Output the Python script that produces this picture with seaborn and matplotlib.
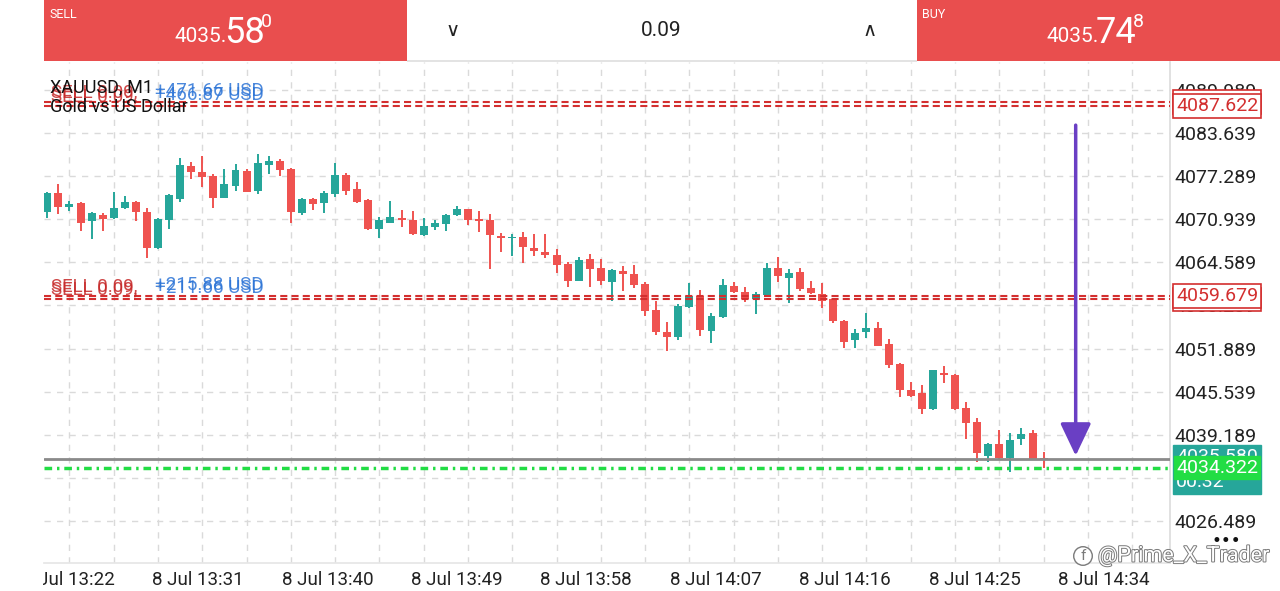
import numpy as np
import pandas as pd
import matplotlib
matplotlib.use('Agg')
import matplotlib.pyplot as plt
import matplotlib.patheffects as pe
from matplotlib.patches import Rectangle
from matplotlib.transforms import blended_transform_factory
import seaborn as sns

# XAUUSD M1 candles
opens = [4072.00, 4074.76, 4072.78, 4073.28, 4070.63, 4071.61, 4071.12, 4072.55, 4073.48, 4071.96,
         4066.70, 4070.82, 4073.96, 4078.82, 4077.85, 4077.35, 4074.11, 4075.88, 4078.09, 4075.14,
         4078.88, 4079.52, 4078.34, 4071.90, 4073.92, 4073.28, 4074.70, 4077.45, 4075.35, 4073.73,
         4069.46, 4070.43, 4071.08, 4070.78, 4068.62, 4069.84, 4070.19, 4071.56, 4072.45, 4071.02,
         4070.78, 4068.47, 4068.13, 4068.32, 4066.70, 4066.15, 4065.63, 4064.34, 4061.88, 4065.04,
         4063.75, 4061.74, 4063.36, 4062.83, 4061.35, 4057.57, 4054.28, 4053.63, 4057.97, 4059.63,
         4054.52, 4056.49, 4061.15, 4060.26, 4059.19, 4059.78, 4063.71, 4062.33, 4063.12, 4060.76,
         4059.92, 4059.19, 4055.99, 4053.10, 4054.28, 4054.92, 4052.56, 4049.57, 4045.78, 4045.30,
         4042.99, 4048.33, 4048.04, 4043.13, 4041.11, 4036.11, 4037.83, 4035.81, 4038.57, 4039.49,
         4035.72]
highs = [4074.99, 4076.13, 4073.67, 4073.48, 4072.00, 4071.81, 4074.91, 4074.40, 4073.62, 4072.55,
         4071.16, 4074.70, 4079.91, 4079.32, 4080.25, 4077.56, 4078.34, 4079.07, 4078.29, 4080.50,
         4080.21, 4079.77, 4078.44, 4074.02, 4074.07, 4075.10, 4079.18, 4077.75, 4076.38, 4073.92,
         4071.31, 4073.62, 4072.30, 4072.11, 4071.16, 4070.78, 4071.75, 4072.89, 4072.49, 4072.19,
         4071.66, 4068.95, 4068.72, 4069.10, 4068.72, 4068.81, 4066.60, 4064.59, 4065.33, 4065.77,
         4065.04, 4063.56, 4064.09, 4064.24, 4061.69, 4058.94, 4055.84, 4058.45, 4061.50, 4060.47,
         4057.13, 4062.13, 4061.69, 4061.00, 4060.22, 4064.45, 4065.33, 4063.61, 4063.80, 4061.88,
         4061.50, 4059.29, 4056.09, 4054.77, 4057.17, 4055.80, 4053.30, 4049.72, 4047.01, 4046.52,
         4048.75, 4049.27, 4048.10, 4044.02, 4041.61, 4038.02, 4039.89, 4039.41, 4040.14, 4039.89,
         4036.61]
lows = [4071.08, 4071.71, 4072.15, 4069.20, 4067.98, 4069.16, 4070.93, 4072.40, 4070.68, 4065.27,
        4066.60, 4069.46, 4073.43, 4076.82, 4075.73, 4072.64, 4074.02, 4075.14, 4074.91, 4074.70,
        4077.60, 4077.35, 4070.34, 4071.52, 4072.25, 4071.81, 4074.26, 4074.51, 4073.28, 4069.35,
        4068.22, 4070.34, 4069.84, 4068.66, 4068.51, 4069.35, 4069.16, 4071.46, 4070.09, 4069.10,
        4063.56, 4066.11, 4065.57, 4064.54, 4065.48, 4065.23, 4063.02, 4060.96, 4061.84, 4060.91,
        4061.21, 4058.89, 4060.32, 4060.76, 4056.68, 4053.84, 4051.53, 4053.15, 4057.90, 4053.74,
        4052.71, 4056.39, 4060.12, 4058.75, 4056.98, 4059.63, 4061.69, 4058.64, 4060.41, 4059.88,
        4057.82, 4055.61, 4051.93, 4051.97, 4053.49, 4052.26, 4048.98, 4044.75, 4044.71, 4042.20,
        4042.90, 4046.86, 4042.90, 4038.52, 4035.22, 4035.13, 4035.47, 4033.75, 4037.68, 4035.47,
        4034.25]
closes = [4074.85, 4072.70, 4073.23, 4070.43, 4071.86, 4071.02, 4072.64, 4073.52, 4071.96, 4066.70,
          4070.93, 4074.51, 4078.93, 4077.90, 4077.16, 4074.11, 4076.13, 4078.15, 4074.99, 4079.18,
          4079.52, 4078.15, 4071.96, 4073.87, 4073.23, 4074.76, 4077.50, 4075.14, 4073.43, 4069.46,
          4070.82, 4071.27, 4070.78, 4068.76, 4069.90, 4070.38, 4071.61, 4072.40, 4070.87, 4070.68,
          4068.57, 4068.22, 4068.28, 4066.85, 4066.21, 4065.63, 4064.20, 4061.80, 4064.93, 4063.65,
          4061.80, 4063.50, 4062.83, 4061.18, 4057.42, 4054.28, 4053.63, 4058.20, 4059.67, 4054.62,
          4056.73, 4061.25, 4060.22, 4059.14, 4059.88, 4063.80, 4062.62, 4063.02, 4060.62, 4060.07,
          4058.89, 4055.95, 4052.90, 4054.22, 4054.96, 4052.31, 4049.42, 4045.74, 4044.94, 4043.03,
          4048.69, 4048.04, 4042.94, 4040.88, 4036.46, 4037.83, 4035.72, 4038.46, 4039.30, 4035.58,
          4035.58]

price_ticks = [4026.489, 4032.839, 4039.189, 4045.539, 4051.889, 4058.239,
               4064.589, 4070.939, 4077.289, 4083.639, 4089.989]
time_labels = ['8 Jul 13:22', '8 Jul 13:31', '8 Jul 13:40', '8 Jul 13:49', '8 Jul 13:58',
               '8 Jul 14:07', '8 Jul 14:16', '8 Jul 14:25', '8 Jul 14:34']

# open positions
pos_top = [4088.155, 4087.622]
pos_top_profit = ['+471.66 USD', '+466.87 USD']
pos_mid = [4059.679, 4059.120]
pos_mid_profit = ['+215.88 USD', '+211.66 USD']
bid = 4035.580
ask = 4035.748
green_level = 4034.322
countdown = '00:32'
lot = '0.09'
arrow_bar = 92.9
arrow_from, arrow_to = 4084.8, 4036.1

GREEN = '#26A69A'
RED = '#EF5350'
HEAD_RED = '#E94E4E'
LINE_RED = '#D32F2F'
BLUE = '#2B73D6'

sns.set_theme(style="white")
plt.rcParams['font.family'] = ['Roboto', 'DejaVu Sans']

df = pd.DataFrame({'open': opens, 'high': highs, 'low': lows, 'close': closes})
df['bar'] = np.arange(len(df))
colors = np.where(df['close'] > df['open'], GREEN, RED)

W, H = 1280, 591
fig = plt.figure(figsize=(12.8, 5.91), dpi=100)
fx = lambda x: x / W
fy = lambda y: 1 - y / H
ax = fig.add_axes([fx(44), fy(563), (1170 - 44) / W, (563 - 62) / H])

# grid
for v in price_ticks:
    ax.axhline(v, color='#DADADA', lw=1, ls=(0, (4.5, 4.5)), zorder=1)
for b in np.arange(2, 102, 4):
    ax.axvline(b, color='#DADADA', lw=1, ls=(0, (4.5, 4.5)), zorder=1)

# candles
ax.vlines(df['bar'], df['low'], df['high'], colors=colors, lw=1.4, zorder=3)
body = (df['close'] - df['open']).abs().clip(lower=0.25)
ax.bar(df['bar'], body, bottom=df[['open', 'close']].min(axis=1), width=0.72,
       color=colors, zorder=4, linewidth=0)

ax.set_xlim(-0.3, 101.42)
ax.set_ylim(4020.30, 4094.10)

# position lines
for p in pos_top + pos_mid:
    ax.axhline(p, color=LINE_RED, lw=1.5, ls=(0, (3.4, 2.0)), zorder=5)
ax.axhline(bid, color='#8A8A8A', lw=2, zorder=5)
ax.axhline(green_level, color='#22DD44', lw=2.5, ls=(0, (2.2, 1.4, 0.7, 1.4)), zorder=5)

# arrow
ax.annotate('', xy=(arrow_bar, arrow_to), xytext=(arrow_bar, arrow_from),
            arrowprops=dict(arrowstyle='-|>,head_length=2.0,head_width=0.95',
                            color='#6A3FC4', lw=2.5, shrinkA=0, shrinkB=0,
                            mutation_scale=10), zorder=6)

# axes styling
for s in ['top', 'left']:
    ax.spines[s].set_visible(False)
ax.spines['right'].set_color('#DDDDDD')
ax.spines['bottom'].set_color('#E6E6E6')
ax.yaxis.tick_right()
ax.set_yticks(price_ticks)
ax.set_yticklabels([f'{v:.3f}' for v in price_ticks])
ax.tick_params(axis='y', length=0, pad=3, labelsize=14, labelcolor='#222222')
ax.set_xticks(1.92 + 11.69 * np.arange(len(time_labels)))
ax.set_xticklabels(time_labels)
ax.tick_params(axis='x', length=0, pad=6, labelsize=13.5, labelcolor='#222222')

tr = blended_transform_factory(ax.transAxes, ax.transData)
tag_x = (1176 - 44) / 1126
for p in pos_top[:1] + pos_mid[1:]:
    ax.text(tag_x, p, f'{p:.3f}', transform=tr, fontsize=14, color=LINE_RED, va='center',
            ha='left', clip_on=False, zorder=7,
            bbox=dict(boxstyle='square,pad=0.15', fc='white', ec=LINE_RED, lw=1.2))
for p in pos_top[1:] + pos_mid[:1]:
    ax.text(tag_x, p, f'{p:.3f}', transform=tr, fontsize=14, color=LINE_RED, va='center',
            ha='left', clip_on=False, zorder=8,
            bbox=dict(boxstyle='square,pad=0.15', fc='white', ec=LINE_RED, lw=1.2))
# bid tag with bar countdown underneath
ax.annotate(f'{bid:.3f}\n{countdown}', xy=(tag_x, bid), xycoords=tr, xytext=(0, 8),
            textcoords='offset points', fontsize=14, color='white', va='top', ha='left',
            linespacing=1.5, annotation_clip=False, zorder=7,
            bbox=dict(boxstyle='square,pad=0.15', fc=GREEN, ec=GREEN))
ax.text(tag_x, green_level, f'{green_level:.3f}', transform=tr, fontsize=14, color='white',
        va='center', ha='left', clip_on=False, zorder=9,
        bbox=dict(boxstyle='square,pad=0.12', fc='#22DD44', ec='#22DD44'))

# position labels (ghosted double text as in the app)
for p, prof in zip(pos_top + pos_mid, pos_top_profit + pos_mid_profit):
    ax.annotate(f'SELL {lot},', xy=(0, p), xycoords=tr, xytext=(5, 0.5), textcoords='offset points',
                fontsize=13.5, color='#C62828', va='bottom', ha='left', zorder=6, alpha=0.85)
    ax.annotate(prof, xy=(0, p), xycoords=tr, xytext=(80, 1.5), textcoords='offset points',
                fontsize=13.5, color=BLUE, va='bottom', ha='left', zorder=6, alpha=0.85)

fig.text(fx(50), fy(87), 'XAUUSD, M1', fontsize=13, color='#111111', va='center', zorder=10)
fig.text(fx(50), fy(107), 'Gold vs US Dollar', fontsize=13, color='#111111', va='center', zorder=10)

# header bar
fig.add_artist(Rectangle((fx(44), fy(61)), (407 - 44) / W, 61 / H, transform=fig.transFigure,
                         fc=HEAD_RED, ec='none', zorder=20))
fig.add_artist(Rectangle((fx(407), fy(61)), (917 - 407) / W, 61 / H, transform=fig.transFigure,
                         fc='white', ec='none', zorder=20))
fig.add_artist(Rectangle((fx(407), fy(62)), (917 - 407) / W, 2 / H, transform=fig.transFigure,
                         fc='#E3E3E3', ec='none', zorder=20))
fig.add_artist(Rectangle((fx(917), fy(61)), (W - 917) / W, 61 / H, transform=fig.transFigure,
                         fc=HEAD_RED, ec='none', zorder=20))
fig.add_artist(Rectangle((0, fy(591)), 43 / W, 25 / H, transform=fig.transFigure,
                         fc='white', ec='none', zorder=20))

def price_parts(x_right, y_base, value):
    s = f'{value:.3f}'
    fig.text(fx(x_right), fy(y_base), s[:5], fontsize=15, color='white', ha='right',
             va='baseline', zorder=21)
    fig.text(fx(x_right - 3), fy(y_base + 1), s[5:7], fontsize=26, color='white', ha='left',
             va='baseline', zorder=21)
    fig.text(fx(x_right + 34), fy(27), s[7], fontsize=14, color='white', ha='left',
             va='baseline', zorder=21)

fig.text(fx(50), fy(14), 'SELL', fontsize=9, color='white', va='center', zorder=21)
fig.text(fx(922), fy(14), 'BUY', fontsize=9, color='white', va='center', zorder=21)
price_parts(227, 42, bid)
price_parts(1099, 42, ask)
fig.text(fx(661), fy(31), lot, fontsize=15, color='#222222', ha='center', va='center', zorder=21)
fig.text(fx(453), fy(31), '∨', fontsize=14, color='#222222', ha='center', va='center', zorder=21,
         family='DejaVu Sans')
fig.text(fx(870), fy(31), '∧', fontsize=14, color='#222222', ha='center', va='center', zorder=21,
         family='DejaVu Sans')

fig.text(fx(1226), fy(541), '•••', fontsize=12, color='#111111', ha='center', va='center',
         family='DejaVu Sans', zorder=21)
fig.text(fx(1098), fy(556), '@Prime_X_Trader', fontsize=15.5, color='white', ha='left',
         va='center', zorder=21,
         path_effects=[pe.withStroke(linewidth=1.4, foreground='#7A7A7A')])
fig.text(fx(1083), fy(556), 'f', fontsize=11, color='#7A7A7A', ha='center', va='center',
         zorder=21, bbox=dict(boxstyle='circle,pad=0.15', fc='white', ec='#7A7A7A', lw=1))

fig.savefig('out.png', dpi=100)
